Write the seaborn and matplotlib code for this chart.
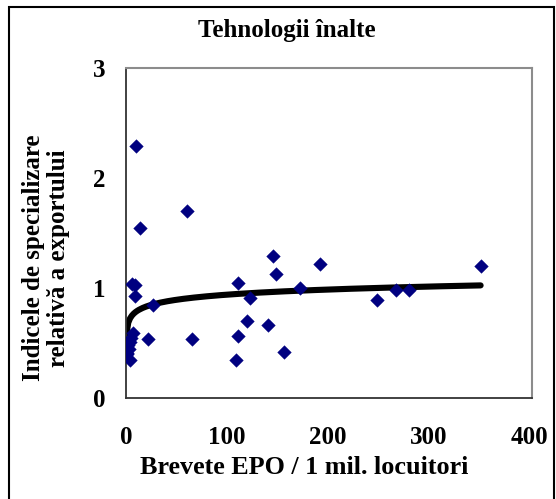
import numpy as np
import pandas as pd
import matplotlib
matplotlib.use("Agg")
import matplotlib.pyplot as plt
import seaborn as sns
from matplotlib.patches import Rectangle

# ---- data ----
patents = [10, 14, 61, 6, 9, 9, 22, 66, 111, 123, 120, 111, 109, 146, 149,
           141, 157, 173, 193, 249, 268, 281, 352, 7, 27, 4, 2, 1, 4, 3, 5, 0.5]
rsi = [2.29, 1.55, 1.70, 1.04, 1.03, 0.93, 0.54, 0.54, 1.05, 0.91, 0.70, 0.56,
       0.35, 1.29, 1.13, 0.66, 0.42, 1.00, 1.22, 0.89, 0.98, 0.98, 1.20, 0.59,
       0.85, 0.51, 0.48, 0.41, 0.35, 0.45, 0.55, 0.40]
x_ticks = [0, 100, 200, 300, 400]
y_ticks = [0, 1, 2, 3]
title = "Tehnologii înalte"
x_label = "Brevete EPO / 1 mil. locuitori"
y_label = "Indicele de specializare\nrelativă a exportului"

df = pd.DataFrame({"x": patents, "y": rsi})

# logarithmic trend fitted to the data (as in the spreadsheet trendline)
b, a = np.polyfit(np.log(df["x"]), df["y"], 1)
trend_x = np.linspace(df["x"].min(), df["x"].max(), 200)
trend = pd.DataFrame({"x": trend_x, "y": a + b * np.log(trend_x)})

sns.set_style("white")
plt.rcParams["font.family"] = ["Liberation Serif", "DejaVu Serif"]
plt.rcParams["font.weight"] = "bold"

W, H = 556, 499
fig = plt.figure(figsize=(W / 100, H / 100), dpi=100)
ax = fig.add_axes([126 / W, 1 - 398 / H, (532 - 126) / W, (398 - 68) / H])

sns.lineplot(data=trend, x="x", y="y", ax=ax, color="black", linewidth=4.4,
             sort=True, estimator=None, zorder=2)
sns.scatterplot(data=df, x="x", y="y", ax=ax, marker="D", s=48,
                color="#000080", edgecolor="#000080", linewidth=0.3, zorder=3)

ax.set_xlim(0, 403)
ax.set_ylim(0, 3)
ax.set_xticks(x_ticks)
ax.set_yticks(y_ticks)
ax.set_xlabel("")
ax.set_ylabel("")
ax.tick_params(axis="both", which="major", direction="out", length=4,
               width=1.2, color="#333333", labelsize=18, labelcolor="black")
ax.tick_params(axis="x", pad=16.5)
ax.tick_params(axis="y", pad=10.5)
for lab in ax.get_xticklabels() + ax.get_yticklabels():
    lab.set_fontweight("bold")

for side in ["left", "bottom"]:
    ax.spines[side].set_color("#333333")
    ax.spines[side].set_linewidth(1.3)
for side in ["top", "right"]:
    ax.spines[side].set_color("#8c8c8c")
    ax.spines[side].set_linewidth(1.5)
    ax.spines[side].set_visible(True)

fig.text(287 / W, 1 - 30 / H, title, ha="center", va="center",
         fontsize=18, fontweight="bold", color="black")
fig.text(304 / W, 1 - 467 / H, x_label, ha="center", va="center",
         fontsize=18.8, fontweight="bold", color="black")
fig.text(46 / W, 1 - 258 / H, y_label, ha="center", va="center",
         rotation=90, fontsize=18, fontweight="bold", linespacing=1.1,
         multialignment="center", color="black")

fig.patches.append(Rectangle((9 / W, -0.02), (554 - 9) / W, (499 - 7) / H + 0.02,
                             transform=fig.transFigure, fill=False,
                             edgecolor="black", linewidth=1.5))

fig.savefig("out.png", dpi=100)
